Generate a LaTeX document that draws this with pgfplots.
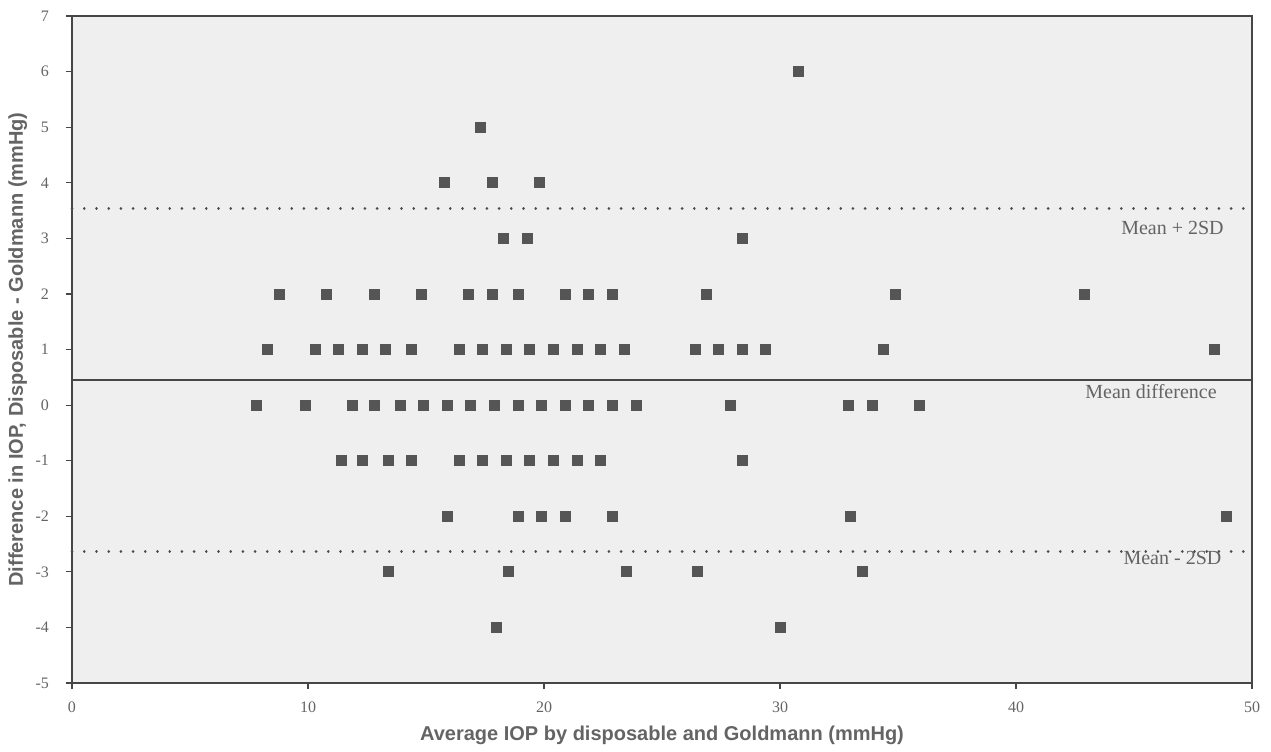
\documentclass[border=0pt]{standalone}
\usepackage{fontspec}
\setmainfont{Liberation Serif}
\newfontfamily\labelfont{Liberation Sans}
\usepackage{pgfplots}
\pgfplotsset{compat=1.18}

\definecolor{markgray}{RGB}{85,85,85}
\definecolor{framegray}{RGB}{70,70,70}
\definecolor{textgray}{RGB}{100,100,100}
\definecolor{bggray}{RGB}{239,239,239}

\begin{document}
\begin{tikzpicture}
\begin{axis}[
    scale only axis,
    width=590pt, height=333.5pt,
    xmin=0, xmax=50, ymin=-5, ymax=7,
    xtick={0,10,...,50}, ytick={-5,-4,...,7},
    tick pos=left, tick align=outside,
    major tick length=3pt,
    axis line style={framegray, line width=0.9pt},
    tick style={framegray, line width=0.6pt},
    axis background/.style={fill=bggray},
    /pgf/number format/assume math mode=true,
    tick label style={font=\fontsize{8}{9}\selectfont, text=textgray},
    xticklabel style={yshift=-3pt},
    yticklabel style={xshift=-5pt},
    xlabel={Average IOP by disposable and Goldmann (mmHg)},
    ylabel={Difference in IOP, Disposable - Goldmann (mmHg)},
    label style={font=\labelfont\bfseries\fontsize{10}{12}\selectfont, text=textgray},
    xlabel style={at={(axis description cs:0.5,-0.078)}, anchor=center},
    ylabel style={at={(axis description cs:-0.046,0.5)}, anchor=center},
    clip=false,
]
% limits of agreement
\addplot[framegray, line width=0.8pt] coordinates {(0,0.45) (50,0.45)};
\addplot[gray!60!black, line width=1.3pt, line cap=round, dash pattern=on 0.1pt off 6pt] coordinates {(0,3.54) (50,3.54)};
\addplot[gray!60!black, line width=1.3pt, line cap=round, dash pattern=on 0.1pt off 6pt] coordinates {(0,-2.63) (50,-2.63)};

% differences
\addplot[only marks, mark=square*, mark size=2.5pt, mark options={fill=markgray, draw=markgray}] coordinates {
    (30.8,6)
    (17.3,5)
    (15.8,4) (17.8,4) (19.8,4)
    (18.3,3) (19.3,3) (28.4,3)
    (8.8,2) (10.8,2) (12.8,2) (14.8,2) (16.8,2) (17.8,2) (18.9,2) (20.9,2)
    (21.9,2) (22.9,2) (26.9,2) (34.9,2) (42.9,2)
    (8.3,1) (10.3,1) (11.3,1) (12.3,1) (13.3,1) (14.4,1) (16.4,1) (17.4,1)
    (18.4,1) (19.4,1) (20.4,1) (21.4,1) (22.4,1) (23.4,1) (26.4,1) (27.4,1)
    (28.4,1) (29.4,1) (34.4,1) (48.4,1)
    (7.8,0) (9.9,0) (11.9,0) (12.8,0) (13.9,0) (14.9,0) (15.9,0) (16.9,0)
    (17.9,0) (18.9,0) (19.9,0) (20.9,0) (21.9,0) (22.9,0) (23.9,0) (27.9,0)
    (32.9,0) (33.9,0) (35.9,0)
    (11.4,-1) (12.3,-1) (13.4,-1) (14.4,-1) (16.4,-1) (17.4,-1) (18.4,-1)
    (19.4,-1) (20.4,-1) (21.4,-1) (22.4,-1) (28.4,-1)
    (15.9,-2) (18.9,-2) (19.9,-2) (20.9,-2) (22.9,-2) (33.0,-2) (48.9,-2)
    (13.4,-3) (18.5,-3) (23.5,-3) (26.5,-3) (33.5,-3)
    (18.0,-4) (30.0,-4)
};

\node[anchor=east, text=textgray, font=\fontsize{10}{12}\selectfont] at (axis cs:49.1,3.18) {Mean + 2SD};
\node[anchor=east, text=textgray, font=\fontsize{10}{12}\selectfont] at (axis cs:48.8,0.25) {Mean difference};
\node[anchor=east, text=textgray, font=\fontsize{10}{12}\selectfont] at (axis cs:49.0,-2.75) {Mean - 2SD};
\end{axis}
\path ([shift={(-36pt,-33.5pt)}]current axis.south west) rectangle ([shift={(9.5pt,8pt)}]current axis.north east);
\end{tikzpicture}
\end{document}
